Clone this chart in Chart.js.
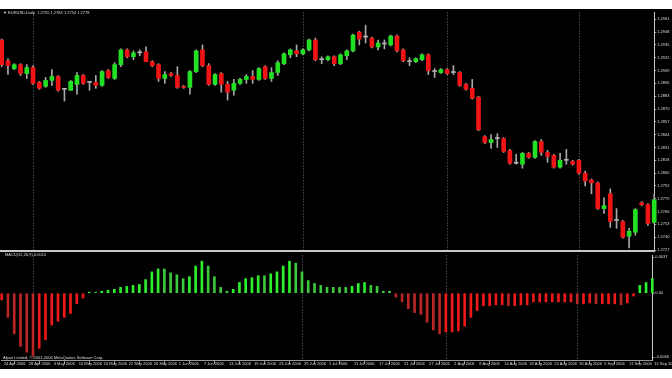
<!DOCTYPE html>
<html>
<head>
<meta charset="utf-8">
<script src="https://cdn.jsdelivr.net/npm/chart.js@4.4.1/dist/chart.umd.min.js"></script>
<style>
  html, body { margin: 0; padding: 0; background: #fff; }
  #wrap { position: relative; width: 672px; height: 378px; overflow: hidden; }
  #black { position: absolute; left: 0; top: 9px; width: 672px; height: 360px; background: #000; }
  #priceChart { position: absolute; left: 0; top: 9px; }
  #oscChart { position: absolute; left: 0; top: 252px; }
  #sep { position: absolute; left: 0; top: 250px; width: 655px; height: 2px; background: #c8c8c8; }
</style>
</head>
<body>
<div id="wrap">
  <div id="black"></div>
  <canvas id="priceChart" width="672" height="246"></canvas>
  <canvas id="oscChart" width="672" height="117"></canvas>
  <div id="sep"></div>
</div>
<script>
// daily candles
const opens = [1.2940,1.2919,1.2911,1.2915,1.2906,1.2912,1.2897,1.2893,1.2899,1.2903,
  1.2890,1.2889,1.2895,1.2904,1.2897,1.2897,1.2894,1.2909,1.2901,1.2915,
  1.2930,1.2923,1.2927,1.2928,1.2918,1.2915,1.2901,1.2906,1.2904,1.2893,
  1.2892,1.2908,1.2930,1.2914,1.2895,1.2906,1.2895,1.2889,1.2896,1.2900,
  1.2903,1.2900,1.2913,1.2901,1.2907,1.2916,1.2925,1.2929,1.2926,1.2930,
  1.2940,1.2920,1.2920,1.2923,1.2916,1.2924,1.2929,1.2948,1.2943,1.2942,
  1.2933,1.2936,1.2935,1.2944,1.2930,1.2918,1.2918,1.2920,1.2925,1.2908,
  1.2907,1.2910,1.2907,1.2907,1.2895,1.2891,1.2882,1.2842,1.2836,1.2840,
  1.2840,1.2828,1.2815,1.2814,1.2825,1.2821,1.2837,1.2826,1.2823,1.2811,
  1.2818,1.2817,1.2818,1.2805,1.2798,1.2795,1.2769,1.2784,1.2757,1.2756,
  1.2741,1.2745,1.2775,1.2773,1.2755];
const highs = [1.2941,1.2921,1.2916,1.2916,1.2915,1.2914,1.2898,1.2902,1.2910,1.2904,
  1.2890,1.2899,1.2907,1.2905,1.2898,1.2904,1.2909,1.2910,1.2917,1.2931,
  1.2931,1.2929,1.2930,1.2933,1.2919,1.2916,1.2908,1.2907,1.2913,1.2894,
  1.2909,1.2930,1.2935,1.2916,1.2906,1.2907,1.2898,1.2900,1.2901,1.2905,
  1.2909,1.2912,1.2914,1.2912,1.2919,1.2927,1.2931,1.2935,1.2931,1.2941,
  1.2942,1.2923,1.2924,1.2924,1.2926,1.2930,1.2946,1.2949,1.2955,1.2943,
  1.2940,1.2940,1.2945,1.2945,1.2931,1.2922,1.2922,1.2926,1.2926,1.2911,
  1.2911,1.2911,1.2914,1.2908,1.2896,1.2900,1.2883,1.2843,1.2844,1.2845,
  1.2841,1.2829,1.2824,1.2826,1.2826,1.2838,1.2839,1.2828,1.2824,1.2825,
  1.2829,1.2818,1.2819,1.2807,1.2799,1.2796,1.2780,1.2789,1.2769,1.2757,
  1.2749,1.2769,1.2776,1.2774,1.2784];
const lows = [1.2913,1.2905,1.2910,1.2904,1.2901,1.2895,1.2890,1.2892,1.2894,1.2888,
  1.2878,1.2889,1.2885,1.2895,1.2889,1.2891,1.2893,1.2901,1.2900,1.2913,
  1.2922,1.2920,1.2924,1.2918,1.2913,1.2898,1.2896,1.2903,1.2891,1.2891,
  1.2885,1.2907,1.2913,1.2894,1.2894,1.2887,1.2879,1.2884,1.2895,1.2896,
  1.2896,1.2899,1.2900,1.2898,1.2904,1.2915,1.2922,1.2923,1.2925,1.2929,
  1.2919,1.2916,1.2919,1.2914,1.2915,1.2920,1.2928,1.2935,1.2937,1.2932,
  1.2930,1.2931,1.2934,1.2928,1.2918,1.2914,1.2917,1.2919,1.2905,1.2902,
  1.2906,1.2905,1.2905,1.2893,1.2889,1.2880,1.2848,1.2835,1.2830,1.2831,
  1.2826,1.2814,1.2814,1.2810,1.2820,1.2820,1.2823,1.2816,1.2810,1.2810,
  1.2814,1.2813,1.2804,1.2792,1.2784,1.2768,1.2764,1.2750,1.2749,1.2739,
  1.2729,1.2742,1.2772,1.2752,1.2754];
const closes = [1.2915,1.2914,1.2915,1.2906,1.2912,1.2896,1.2891,1.2899,1.2903,1.2889,
  1.2890,1.2898,1.2904,1.2896,1.2897,1.2894,1.2908,1.2902,1.2915,1.2930,
  1.2923,1.2927,1.2927,1.2918,1.2914,1.2901,1.2905,1.2904,1.2892,1.2892,
  1.2908,1.2929,1.2914,1.2895,1.2905,1.2895,1.2887,1.2896,1.2900,1.2903,
  1.2900,1.2911,1.2901,1.2907,1.2917,1.2926,1.2930,1.2926,1.2930,1.2940,
  1.2920,1.2920,1.2923,1.2916,1.2925,1.2929,1.2945,1.2941,1.2943,1.2933,
  1.2937,1.2936,1.2944,1.2929,1.2919,1.2918,1.2921,1.2925,1.2909,1.2908,
  1.2910,1.2906,1.2907,1.2894,1.2890,1.2881,1.2849,1.2836,1.2839,1.2840,
  1.2827,1.2815,1.2815,1.2825,1.2821,1.2837,1.2826,1.2822,1.2811,1.2818,
  1.2818,1.2814,1.2805,1.2797,1.2795,1.2769,1.2772,1.2756,1.2757,1.2740,
  1.2746,1.2768,1.2773,1.2754,1.2778];

// oscillator histogram
const oscValues = [-0.0007,-0.0025,-0.0042,-0.0055,-0.0061,-0.0065,-0.0057,-0.0048,-0.0033,-0.0029,
  -0.0025,-0.0021,-0.0011,-0.0005,0.0001,0.0001,0.0002,0.0003,0.0004,0.0006,
  0.0007,0.0008,0.0009,0.0014,0.0022,0.0025,0.0025,0.0021,0.0019,0.0015,
  0.0017,0.0028,0.0033,0.0028,0.0017,0.0006,0.0002,0.0004,0.0011,0.0015,
  0.0016,0.0018,0.0018,0.0020,0.0022,0.0028,0.0033,0.0031,0.0022,0.0013,
  0.0010,0.0008,0.0006,0.0006,0.0006,0.0006,0.0007,0.0010,0.0011,0.0008,
  0.0007,0.0002,0.0002,-0.0004,-0.0009,-0.0016,-0.0020,-0.0022,-0.0030,-0.0038,
  -0.0042,-0.0040,-0.0040,-0.0039,-0.0034,-0.0025,-0.0018,-0.0013,-0.0013,-0.0012,
  -0.0012,-0.0013,-0.0013,-0.0012,-0.0012,-0.0009,-0.0009,-0.0009,-0.0009,-0.0009,
  -0.0009,-0.0009,-0.0011,-0.0011,-0.0010,-0.0011,-0.0011,-0.0011,-0.0011,-0.0012,
  -0.0010,-0.0003,0.0008,0.0011,0.0015];

// one date label every 4 bars
const dateTicks = ["24 Apr 2006","28 Apr 2006","4 May 2006","10 May 2006","16 May 2006","22 May 2006",
  "26 May 2006","1 Jun 2006","7 Jun 2006","13 Jun 2006","19 Jun 2006","23 Jun 2006","29 Jun 2006",
  "5 Jul 2006","11 Jul 2006","17 Jul 2006","21 Jul 2006","27 Jul 2006","2 Aug 2006","8 Aug 2006",
  "14 Aug 2006","18 Aug 2006","24 Aug 2006","30 Aug 2006","5 Sep 2006","11 Sep 2006","15 Sep 2006"];
const priceTicks = [1.2961,1.2948,1.2935,1.2922,1.2909,1.2896,1.2883,1.2870,1.2857,1.2844,
  1.2831,1.2818,1.2805,1.2792,1.2779,1.2766,1.2753,1.2740,1.2727];
const oscTicks = [0.0037, 0, -0.0066];
const separatorBars = [5, 48, 71, 92];

const barLabels = opens.map((_, i) => i % 4 === 0 ? dateTicks[i / 4] : "");
const last = opens.length - 1;

const UP = "#22e022", DOWN = "#f01414", DOJI = "#b4b4b4", WICK = "#a8a8a8";
const TEXT = "#dcdcdc", AXIS = "#c8c8c8", TICK = "#9a9a9a";
const tinyFont = { family: "'Liberation Sans', Arial, sans-serif", size: 4 };

Chart.defaults.animation = false;
Chart.defaults.font.family = tinyFont.family;

const separators = {
  id: "separators",
  beforeDatasetsDraw(chart) {
    const { ctx, chartArea, scales } = chart;
    ctx.save();
    ctx.strokeStyle = "#707070";
    ctx.lineWidth = 1;
    ctx.setLineDash([1, 2]);
    separatorBars.forEach(i => {
      const x = Math.round(scales.x.getPixelForValue(i)) + 0.5;
      ctx.beginPath();
      ctx.moveTo(x, chartArea.top);
      ctx.lineTo(x, chartArea.bottom);
      ctx.stroke();
    });
    ctx.restore();
  }
};

const captions = {
  id: "captions",
  afterDraw(chart, args, opts) {
    const ctx = chart.ctx;
    ctx.save();
    ctx.fillStyle = TEXT;
    ctx.font = "4px " + tinyFont.family;
    ctx.textBaseline = "middle";
    (opts.items || []).forEach(t => ctx.fillText(t.text, t.x, t.y));
    ctx.restore();
  }
};

const fixWidth = s => { s.width = 17.8; };

// Price panel
new Chart(document.getElementById("priceChart"), {
  type: "bar",
  data: {
    labels: barLabels,
    datasets: [{
      label: "wick",
      data: lows.map((l, i) => [l, highs[i]]),
      backgroundColor: WICK,
      barThickness: 1,
      grouped: false,
      clip: false,
      order: 2
    }, {
      label: "body",
      data: opens.map((o, i) => [o, closes[i]]),
      backgroundColor: opens.map((o, i) => closes[i] > o ? UP : closes[i] < o ? DOWN : DOJI),
      barThickness: 4,
      minBarLength: 1,
      grouped: false,
      clip: false,
      order: 1
    }]
  },
  options: {
    responsive: false,
    layout: { padding: { left: 1.7, top: 0, right: 0, bottom: 5 } },
    plugins: {
      legend: { display: false },
      tooltip: { enabled: false },
      captions: {
        items: [{ x: 3, y: 4, text: "\u25BC EURUSD,Daily  " + [opens[last], highs[last], lows[last], closes[last]].map(v => v.toFixed(4)).join(" ") }]
      }
    },
    scales: {
      x: { display: false, offset: false },
      y: {
        position: "right",
        min: 1.2727,
        max: 1.2968,
        afterFit: fixWidth,
        afterBuildTicks: s => { s.ticks = priceTicks.map(v => ({ value: v })); },
        ticks: { color: TEXT, font: tinyFont, padding: 1, callback: v => v.toFixed(4) },
        grid: { drawOnChartArea: false, tickLength: 2, color: TICK },
        border: { color: AXIS, width: 1 }
      }
    }
  },
  plugins: [separators, captions]
});

// Oscillator panel
new Chart(document.getElementById("oscChart"), {
  type: "bar",
  data: {
    labels: barLabels,
    datasets: [{
      label: "osc",
      data: oscValues,
      backgroundColor: oscValues.map((v, i) => {
        const prev = i > 0 ? oscValues[i - 1] : v;
        if (v < 0) return v < prev ? "#b82626" : "#f01818";
        return v > prev ? "#2cf02c" : "#3cc83c";
      }),
      barThickness: 2,
      clip: false
    }]
  },
  options: {
    responsive: false,
    layout: { padding: { left: 1.7, top: 0, right: 0, bottom: 0 } },
    plugins: {
      legend: { display: false },
      tooltip: { enabled: false },
      captions: {
        items: [
          { x: 5, y: 3, text: "MACD(12,26,9) " + oscValues[last].toFixed(4) },
          { x: 3, y: 106, text: "Alpari Limited, \u00A9 2001-2006 MetaQuotes Software Corp." }
        ]
      }
    },
    scales: {
      x: {
        offset: false,
        afterFit: s => { s.height = 9; },
        afterBuildTicks: s => { s.ticks = s.ticks.filter(t => t.value % 4 === 0); },
        ticks: {
          autoSkip: false, maxRotation: 0, minRotation: 0, align: "start",
          padding: -3, labelOffset: 2, color: TEXT, font: tinyFont,
          callback: v => dateTicks[v / 4]
        },
        grid: { drawOnChartArea: false, tickLength: 4, color: TICK },
        border: { color: TICK, width: 1 }
      },
      y: {
        position: "right",
        min: -0.0069,
        max: 0.0039,
        afterFit: fixWidth,
        afterBuildTicks: s => { s.ticks = oscTicks.map(v => ({ value: v })); },
        ticks: { color: TEXT, font: tinyFont, padding: 1, callback: v => v === 0 ? "0.00" : v.toFixed(4) },
        grid: { drawOnChartArea: false, tickLength: 2, color: TICK },
        border: { color: AXIS, width: 1 }
      }
    }
  },
  plugins: [separators, captions]
});
</script>
</body>
</html>
